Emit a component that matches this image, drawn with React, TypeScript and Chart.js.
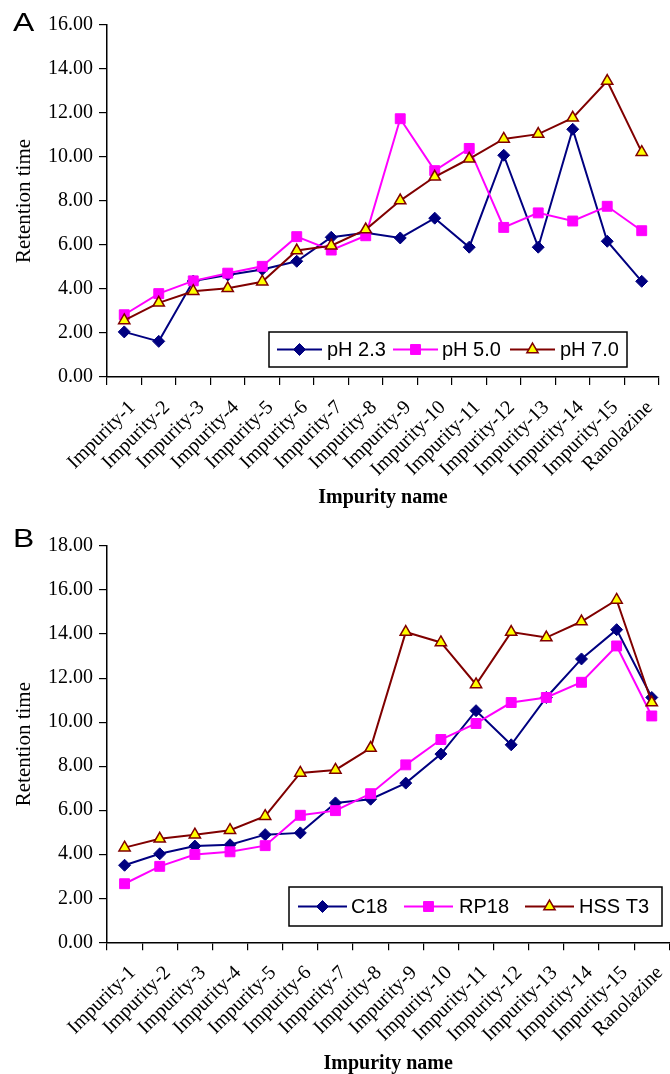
import React, { useEffect, useRef } from "react";
import { Chart, registerables } from "chart.js";

Chart.register(...registerables);

const categories = [
  "Impurity-1", "Impurity-2", "Impurity-3", "Impurity-4", "Impurity-5",
  "Impurity-6", "Impurity-7", "Impurity-8", "Impurity-9", "Impurity-10",
  "Impurity-11", "Impurity-12", "Impurity-13", "Impurity-14", "Impurity-15",
  "Ranolazine",
];

// Panel A
const ph23 = [2.05, 1.62, 4.36, 4.64, 4.89, 5.26, 6.35, 6.56, 6.32, 7.22, 5.9, 10.08, 5.9, 11.26, 6.17, 4.35];
const ph50 = [2.83, 3.79, 4.37, 4.72, 5.03, 6.38, 5.77, 6.42, 11.74, 9.38, 10.39, 6.8, 7.46, 7.09, 7.76, 6.65];
const ph70 = [2.57, 3.37, 3.9, 4.03, 4.33, 5.75, 5.97, 6.7, 8.02, 9.1, 9.92, 10.82, 11.04, 11.78, 13.45, 10.22];
const labelsA = ["pH 2.3", "pH 5.0", "pH 7.0"];

// Panel B
const c18 = [3.5, 4.02, 4.37, 4.43, 4.89, 4.97, 6.33, 6.5, 7.23, 8.55, 10.52, 8.97, 11.12, 12.87, 14.2, 11.12];
const rp18 = [2.66, 3.45, 3.99, 4.11, 4.39, 5.77, 5.98, 6.75, 8.06, 9.21, 9.94, 10.89, 11.12, 11.81, 13.46, 10.28];
const hsst3 = [4.3, 4.7, 4.89, 5.09, 5.73, 7.69, 7.83, 8.82, 14.09, 13.62, 11.71, 14.09, 13.84, 14.57, 15.55, 10.89];
const labelsB = ["C18", "RP18", "HSS T3"];

const yTitle = "Retention time";
const xTitle = "Impurity name";

const SERIF = "'Liberation Serif', 'Times New Roman', serif";
const SANS = "'Liberation Sans', Arial, sans-serif";

const NAVY = "#000080";
const MAGENTA = "#FF00FF";
const DARKRED = "#800000";
const YELLOW = "#FFFF00";

function drawMarker(ctx: CanvasRenderingContext2D, style: string, x: number, y: number, r: number, fill: string, stroke: string, bw: number) {
  ctx.beginPath();
  if (style === "rectRot") {
    ctx.moveTo(x, y - r);
    ctx.lineTo(x + r, y);
    ctx.lineTo(x, y + r);
    ctx.lineTo(x - r, y);
  } else if (style === "rect") {
    const s = r * Math.SQRT1_2;
    ctx.rect(x - s, y - s, 2 * s, 2 * s);
  } else {
    for (let k = 0; k < 3; k++) {
      const a = (k * 2 * Math.PI) / 3;
      const px = x + Math.sin(a) * r;
      const py = y - Math.cos(a) * r;
      if (k === 0) ctx.moveTo(px, py);
      else ctx.lineTo(px, py);
    }
  }
  ctx.closePath();
  ctx.fillStyle = fill;
  ctx.fill();
  ctx.lineWidth = bw;
  ctx.strokeStyle = stroke;
  ctx.stroke();
}

const boxLegend = {
  id: "boxLegend",
  afterDraw(chart: any, _args: any, opts: any) {
    const ctx: CanvasRenderingContext2D = chart.ctx;
    const { box, items, lineLen, fontSize } = opts;
    ctx.save();
    ctx.fillStyle = "#fff";
    ctx.fillRect(box.x, box.y, box.w, box.h);
    ctx.strokeStyle = "#000";
    ctx.lineWidth = 1.5;
    ctx.strokeRect(box.x, box.y, box.w, box.h);
    const cy = box.y + box.h / 2;
    items.forEach((it: any, i: number) => {
      const ds = chart.data.datasets[i];
      ctx.beginPath();
      ctx.moveTo(it.lineX, cy);
      ctx.lineTo(it.lineX + lineLen, cy);
      ctx.strokeStyle = ds.borderColor;
      ctx.lineWidth = ds.borderWidth;
      ctx.stroke();
      drawMarker(ctx, ds.pointStyle, it.lineX + lineLen / 2, cy, ds.pointRadius, ds.pointBackgroundColor, ds.pointBorderColor, ds.pointBorderWidth);
      ctx.fillStyle = "#000";
      ctx.font = `${fontSize}px ${SANS}`;
      ctx.textBaseline = "middle";
      ctx.textAlign = "left";
      ctx.fillText(ds.label, it.textX, cy + 1);
    });
    ctx.restore();
  },
};

function makeDatasets(labels: string[], d1: number[], d2: number[], d3: number[]) {
  return [
    {
      label: labels[0], data: d1, borderColor: NAVY, backgroundColor: NAVY, borderWidth: 2,
      pointStyle: "rectRot", pointRadius: 6, pointBackgroundColor: NAVY, pointBorderColor: NAVY, pointBorderWidth: 1, order: 3,
    },
    {
      label: labels[1], data: d2, borderColor: MAGENTA, backgroundColor: MAGENTA, borderWidth: 2,
      pointStyle: "rect", pointRadius: 7, pointBackgroundColor: MAGENTA, pointBorderColor: MAGENTA, pointBorderWidth: 1, order: 2,
    },
    {
      label: labels[2], data: d3, borderColor: DARKRED, backgroundColor: YELLOW, borderWidth: 2,
      pointStyle: "triangle", pointRadius: 6.5, pointBackgroundColor: YELLOW, pointBorderColor: DARKRED, pointBorderWidth: 1.5, order: 1,
    },
  ];
}

function makeConfig(p: any): any {
  return {
    type: "line",
    data: { labels: categories, datasets: makeDatasets(p.labels, p.d1, p.d2, p.d3) },
    plugins: [boxLegend],
    options: {
      responsive: false,
      animation: false,
      events: [],
      layout: { padding: { top: p.padTop, right: p.padRight, left: 0, bottom: 0 } },
      elements: { line: { tension: 0 } },
      plugins: {
        legend: { display: false },
        tooltip: { enabled: false },
        boxLegend: p.legend,
      },
      scales: {
        x: {
          type: "category",
          offset: true,
          afterFit: (s: any) => { s.height = p.xHeight; },
          grid: { offset: true, drawOnChartArea: false, drawTicks: true, tickLength: 8, color: "#000", lineWidth: 1.2 },
          border: { color: "#000", width: 1.5 },
          ticks: {
            autoSkip: false, minRotation: 45, maxRotation: 45, padding: p.xPad, labelOffset: p.xLabelOffset,
            color: "#000", font: { family: SERIF, size: 20 },
          },
          title: {
            display: true, text: xTitle, color: "#000",
            font: { family: SERIF, size: 20, weight: "bold" },
            padding: { top: 0, bottom: p.xTitlePad },
          },
        },
        y: {
          min: 0, max: p.yMax,
          afterFit: (s: any) => { s.width = 107; },
          grid: { drawOnChartArea: false, drawTicks: true, tickLength: 8, color: "#000", lineWidth: 1.2 },
          border: { color: "#000", width: 1.5 },
          ticks: {
            stepSize: 2, padding: 6, color: "#000",
            font: { family: SERIF, size: 20, lineHeight: 1 },
            callback: (v: any) => Number(v).toFixed(2),
          },
          title: {
            display: true, text: yTitle, color: "#000",
            font: { family: SERIF, size: 21 },
            padding: { top: 12, bottom: 0 },
          },
        },
      },
    },
  };
}

function ChartCanvas({ cfg, width, height, top }: { cfg: any; width: number; height: number; top: number }) {
  const ref = useRef<HTMLCanvasElement | null>(null);
  useEffect(() => {
    if (!ref.current) return;
    const chart = new Chart(ref.current, cfg);
    return () => chart.destroy();
  }, [cfg]);
  return (
    <canvas
      ref={ref}
      width={width}
      height={height}
      style={{ position: "absolute", left: 0, top, width, height, display: "block" }}
    />
  );
}

const cfgA = makeConfig({
  labels: labelsA, d1: ph23, d2: ph50, d3: ph70, yMax: 16,
  padTop: 25, padRight: 10, xHeight: 153, xPad: 11, xLabelOffset: 8, xTitlePad: 20,
  legend: {
    box: { x: 269, y: 332, w: 358, h: 35 }, lineLen: 45, fontSize: 20,
    items: [{ lineX: 277, textX: 327 }, { lineX: 393, textX: 442 }, { lineX: 510, textX: 560 }],
  },
});

const cfgB = makeConfig({
  labels: labelsB, d1: c18, d2: rp18, d3: hsst3, yMax: 18,
  padTop: 10, padRight: 7.4, xHeight: 131.7, xPad: 11, xLabelOffset: 8, xTitlePad: -2,
  legend: {
    box: { x: 289, y: 357, w: 373, h: 39 }, lineLen: 49, fontSize: 20,
    items: [{ lineX: 298, textX: 351 }, { lineX: 404, textX: 459 }, { lineX: 525, textX: 579 }],
  },
});

const letterStyle: React.CSSProperties = {
  position: "absolute", left: 13, fontFamily: SANS, fontSize: 25.5, lineHeight: "25.5px",
  color: "#000", transform: "scaleX(1.25)", transformOrigin: "left top",
};

export default function App() {
  return (
    <div style={{ position: "absolute", left: 0, top: 0, width: 670, height: 1074, overflow: "hidden", background: "#fff" }}>
      <ChartCanvas cfg={cfgA} width={670} height={530} top={0} />
      <ChartCanvas cfg={cfgB} width={680} height={544} top={530} />
      <div style={{ ...letterStyle, top: 10 }}>A</div>
      <div style={{ ...letterStyle, top: 526 }}>B</div>
    </div>
  );
}
